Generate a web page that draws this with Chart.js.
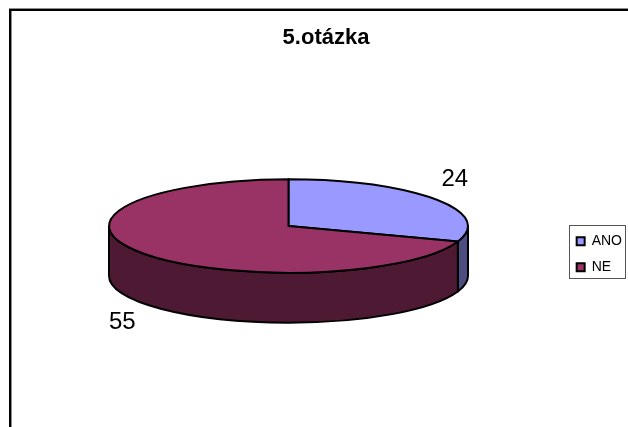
<!DOCTYPE html>
<html>
<head>
<meta charset="utf-8">
<style>html,body{margin:0;padding:0;background:#fff}canvas{display:block}</style>
<script src="https://cdn.jsdelivr.net/npm/chart.js@4"></script>
</head>
<body>
<canvas id="c" width="628" height="427"></canvas>
<script>
const categories = ['ANO', 'NE'];
const seriesValues = [24, 55];
const sliceColors = ['#9999FF', '#993366'];
const wallColors = ['#4D4D80', '#4D1933'];
const chartTitle = '5.otázka';

const FONT = '"Liberation Sans", Arial, sans-serif';
const PIE = { left: 108, right: 469, centerY: 226, squash: 47 / 180.5, depth: 50 };

const pie3d = {
  id: 'pie3d',
  afterLayout(chart) {
    const r = (PIE.right - PIE.left) / 2;
    chart.chartArea = {
      left: PIE.left, right: PIE.right,
      top: PIE.centerY - r, bottom: PIE.centerY + r,
      width: 2 * r, height: 2 * r
    };
  },
  beforeDraw(chart) {
    const c = chart.ctx;
    c.save();
    c.fillStyle = '#fff';
    c.fillRect(0, 0, chart.width, chart.height);
    c.fillStyle = '#8c8c8c';
    c.fillRect(9, 8, chart.width - 9, 1);
    c.fillRect(11, 11, 1, chart.height - 11);
    c.fillStyle = '#000';
    c.fillRect(9, 9, chart.width - 9, 2);
    c.fillRect(9, 9, 2, chart.height - 9);
    c.restore();
  },
  beforeDatasetsDraw(chart) {
    const c = chart.ctx;
    const arcs = chart.getDatasetMeta(0).data;
    const ell = (a0, a1, dy, ccw) => {
      const el = arcs[0];
      c.ellipse(el.x, el.y + dy, el.outerRadius, el.outerRadius * PIE.squash, 0, a0, a1, ccw);
    };
    c.save();
    c.lineJoin = 'round';
    c.lineWidth = 2;
    c.strokeStyle = '#000';
    // side walls: only the front half of each slice shows
    arcs.forEach((el, i) => {
      const a0 = Math.max(el.startAngle, 0);
      const a1 = Math.min(el.endAngle, Math.PI);
      if (a1 <= a0) return;
      c.beginPath();
      ell(a0, a1, 0, false);
      ell(a1, a0, PIE.depth, true);
      c.closePath();
      c.fillStyle = wallColors[i];
      c.fill();
      c.stroke();
    });
    // top faces
    arcs.forEach((el, i) => {
      c.beginPath();
      c.moveTo(el.x, el.y);
      ell(el.startAngle, el.endAngle, 0, false);
      c.closePath();
      c.fillStyle = sliceColors[i];
      c.fill();
      c.stroke();
    });
    // value labels
    c.fillStyle = '#000';
    c.font = '24px ' + FONT;
    c.textAlign = 'center';
    c.textBaseline = 'middle';
    arcs.forEach((el, i) => {
      const m = (el.startAngle + el.endAngle) / 2;
      const s = Math.sin(m);
      const x = el.x + 1.135 * el.outerRadius * Math.cos(m);
      const y = el.y + 1.72 * el.outerRadius * PIE.squash * s + (s > 0 ? PIE.depth : 0);
      c.fillText(String(seriesValues[i]), x, y);
    });
    c.restore();
    return false;
  },
  afterDraw(chart) {
    const hit = chart.legend.legendHitBoxes, c = chart.ctx;
    const first = hit[0], last = hit[hit.length - 1];
    const left = Math.round(first.left) - 8;
    const top = Math.round(first.top) - 9;
    const right = left + 56;
    const bottom = Math.round(last.top + last.height) + 4;
    c.save();
    c.strokeStyle = '#555';
    c.lineWidth = 1;
    c.strokeRect(left + 0.5, top + 0.5, right - left, bottom - top);
    c.restore();
  }
};

new Chart(document.getElementById('c'), {
  type: 'pie',
  data: {
    labels: categories,
    datasets: [{
      data: seriesValues,
      backgroundColor: sliceColors,
      borderColor: '#000',
      borderWidth: 2
    }]
  },
  options: {
    responsive: false,
    animation: false,
    layout: { padding: { left: 20, right: -4, top: 0, bottom: 0 } },
    plugins: {
      title: {
        display: true,
        text: chartTitle,
        color: '#000',
        font: { family: FONT, size: 22, weight: 'bold' },
        padding: { top: 25, bottom: 30 }
      },
      legend: {
        position: 'right',
        fullSize: false,
        labels: {
          color: '#000',
          font: { family: FONT, size: 14 },
          boxWidth: 8,
          boxHeight: 8,
          padding: 12
        }
      },
      tooltip: { enabled: false }
    }
  },
  plugins: [pie3d]
});
</script>
</body>
</html>
